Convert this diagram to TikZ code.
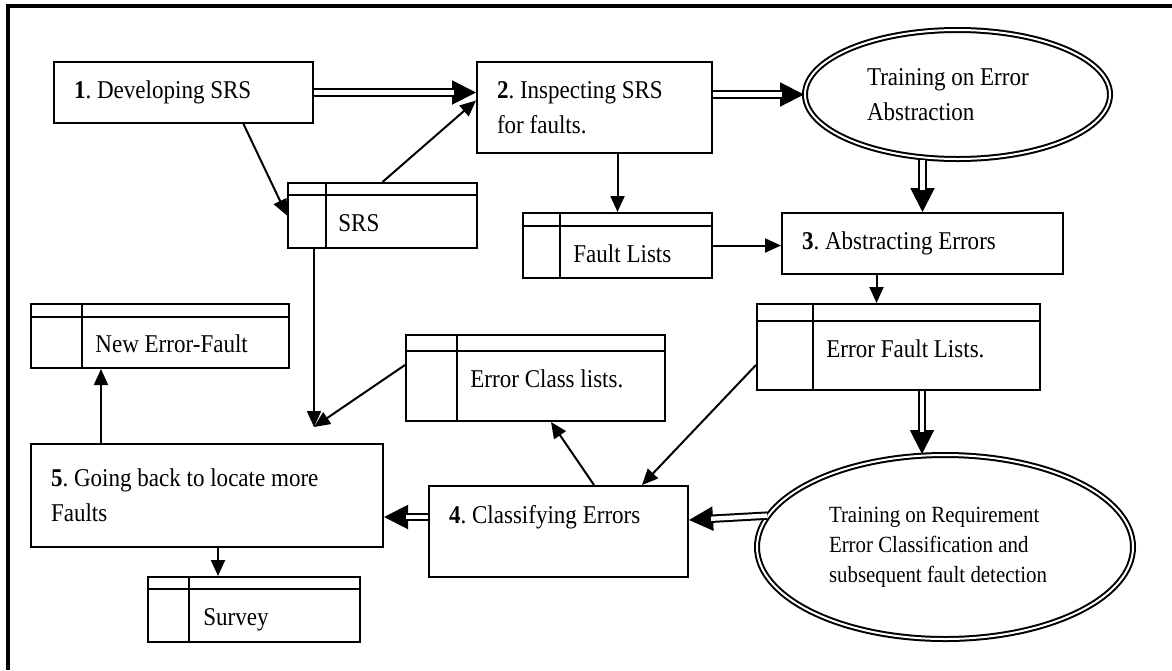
\documentclass[tikz,border=0pt]{standalone}
\usepackage{fontspec}
\setmainfont{Liberation Serif}[FakeStretch=0.9]
\usetikzlibrary{arrows.meta,shapes.geometric,calc}
\frenchspacing

\tikzset{
  txt/.style={font=\fontsize{12.8pt}{17.5pt}\selectfont},
  lbl/.style={txt, anchor=base west, inner sep=0pt},
  proc/.style={draw, line width=1pt, rectangle, align=flush left, inner xsep=10pt, txt},
  store/.style 2 args={draw, line width=1pt, rectangle, inner sep=0pt,
    path picture={
      \draw[line width=1pt] ([yshift=-#2]path picture bounding box.north west) -- ([yshift=-#2]path picture bounding box.north east);
      \draw[line width=1pt] ([xshift=#1]path picture bounding box.north west) -- ([xshift=#1]path picture bounding box.south west);
    }},
  train/.style={draw, ellipse, double, double distance=1pt, line width=1pt, align=flush left},
  arr/.style={line width=1pt, -{Triangle[length=8pt,width=7pt]}},
  bigtip/.style={line width=1pt, -{Triangle[length=12pt,width=12pt]}},
  dbl/.style={double, double distance=2.2pt, line width=1pt, shorten >=11pt},
}

\begin{document}
\begin{tikzpicture}[x=0.5pt,y=-0.5pt]
    \useasboundingbox (0,0) rectangle (1172,670);
    \draw[line width=1.8pt] (8,670) -- (8,6) -- (1172,6);

    % steps
    \node[proc, text width=109.5pt, minimum height=30.5pt] (dev) at (183.5,92.5) {\textbf{1}. Developing SRS};
    \node[proc, text width=97.5pt, minimum height=45.5pt] (insp) at (594.5,107.5) {\textbf{2}. Inspecting SRS\\for faults.};
    \node[proc, text width=120.5pt, minimum height=30.5pt] (abst) at (922.5,243.5) {\textbf{3}. Abstracting Errors};
    \node[proc, text width=109.5pt, minimum height=45.5pt] (class) at (558.5,531.5) {\textbf{4}. Classifying Errors\\\mbox{}};
    \node[proc, text width=156pt, minimum height=51.5pt] (back) at (207,495.5) {\textbf{5}. Going back to locate more\\Faults};

    % trainings
    \node[train, txt, minimum width=152.5pt, minimum height=64.5pt, text width=90.5pt] (trainA) at (957.5,94.5) {Training on Error\\Abstraction};
    \node[train, minimum width=188pt, minimum height=92pt, text width=116pt, font=\fontsize{11.6pt}{15pt}\selectfont] (trainB) at (945,547) {Training on Requirement\\Error Classification and\\subsequent fault detection};

    % lists
    \node[store={19pt}{6pt}, minimum width=94.5pt, minimum height=32.5pt] (srs) at (382.5,215.5) {};
    \node[lbl] (srstxt) at (338,231) {SRS};
    \node[store={18.5pt}{6.5pt}, minimum width=94.5pt, minimum height=32.5pt] (flist) at (617.5,245.5) {};
    \node[lbl] (flisttxt) at (573,262) {Fault Lists};
    \node[store={25.5pt}{6.5pt}, minimum width=129pt, minimum height=32pt] (newef) at (160,336) {};
    \node[lbl] (neweftxt) at (95,352) {New Error-Fault};
    \node[store={25.5pt}{8pt}, minimum width=129.5pt, minimum height=43pt] (eclass) at (535.5,378) {};
    \node[lbl] (eclasstxt) at (470,387) {Error Class lists.};
    \node[store={28pt}{8.5pt}, minimum width=141.5pt, minimum height=43pt] (eflist) at (898.5,347) {};
    \node[lbl] (eflisttxt) at (826,357) {Error Fault Lists.};
    \node[store={20.5pt}{6pt}, minimum width=106pt, minimum height=32.5pt] (survey) at (254,609.5) {};
    \node[lbl] (surveytxt) at (203,625) {Survey};

    \coordinate (join) at (314,427);

    % double arrows
    \draw[bigtip] (dev.east) -- (dev.east -| insp.west);
    \draw[dbl] (dev.east) -- (dev.east -| insp.west);
    \draw[bigtip] (trainA.west -| insp.east) -- (trainA.west);
    \draw[dbl] (trainA.west -| insp.east) -- (trainA.west);
    \draw[bigtip] (abst.north |- trainA.south) -- (abst.north);
    \draw[dbl] (abst.north |- trainA.south) -- (abst.north);
    \draw[bigtip] ([xshift=11.75pt]eflist.south) -- ([xshift=11.75pt]eflist.south |- trainB.north);
    \draw[dbl] ([xshift=11.75pt]eflist.south) -- ([xshift=11.75pt]eflist.south |- trainB.north);
    \draw[bigtip] (trainB.170) -- ([yshift=5.75pt]class.east);
    \draw[dbl] (trainB.170) -- ([yshift=5.75pt]class.east);
    \draw[bigtip] ([yshift=7.25pt]class.west) -- ([yshift=7.25pt]class.west -| back.east);
    \draw[dbl] ([yshift=7.25pt]class.west) -- ([yshift=7.25pt]class.west -| back.east);

    % single arrows
    \draw[arr] ([xshift=30pt]dev.south) -- (srs.west);
    \draw[arr] (srs.north) -- ([yshift=3.5pt]insp.west);
    \draw[arr] (flist.north |- insp.south) -- (flist.north);
    \draw[arr] (flist.east) -- (flist.east -| abst.west);
    \draw[arr] ([xshift=-23pt]abst.south) -- ([xshift=-23pt]abst.south |- eflist.north);
    \draw[arr] ([yshift=-9pt]eflist.west) -- ([xshift=41.75pt]class.north);
    \draw[arr] ([xshift=17.75pt]class.north) -- ([xshift=7.75pt]eclass.south);
    \draw[arr] ([yshift=6.5pt]eclass.west) -- (join);
    \draw[arr] (srs.south -| join) -- (join);
    \draw[arr] ([xshift=-53pt]back.north) -- ([xshift=-53pt]back.north |- newef.south);
    \draw[arr] ([xshift=5.5pt]back.south) -- ([xshift=5.5pt]back.south |- survey.north);
\end{tikzpicture}
\end{document}
